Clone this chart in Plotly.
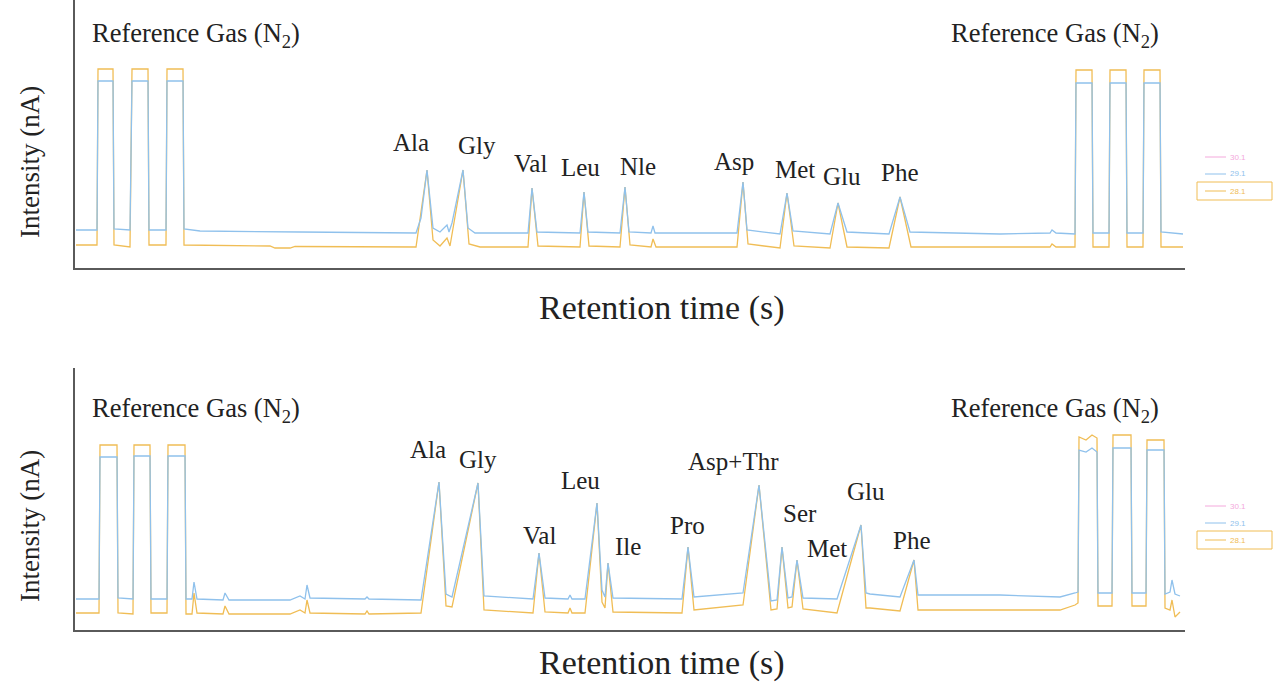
import plotly.graph_objects as go

# ---------------- data (retention time in s, intensity in arbitrary nA units) -------------
# Top chromatogram: standard mixture
top_t_291 = [1, 22, 23, 38, 39, 55, 57, 73, 74, 91, 92, 108, 109, 125, 225, 341, 346, 352, 358, 365,
             372, 374, 377, 388, 393, 400, 453, 457, 462, 505, 509, 513, 545, 550, 554, 576, 578, 580,
             662, 668, 672, 705, 712, 718, 755, 763, 772, 814, 825, 835, 925, 975, 977, 981, 1000, 1001,
             1017, 1018, 1034, 1035, 1051, 1052, 1068, 1069, 1085, 1086, 1108]
top_i_291 = [38, 38, 187, 187, 39, 38, 187, 187, 38, 38, 187, 187, 39, 37, 36, 35, 50, 98, 40, 36,
             43, 36, 45, 98, 40, 35, 35, 80, 36, 35, 76, 36, 35, 81, 36, 35, 42, 35,
             35, 86, 38, 34, 75, 37, 34, 65, 36, 34, 71, 36, 34, 35, 38, 35, 34, 185,
             185, 35, 35, 185, 185, 35, 35, 185, 185, 36, 34]

top_t_281 = [1, 22, 23, 38, 39, 55, 57, 73, 74, 91, 92, 108, 109, 195, 200, 215, 220, 341, 352, 358,
             365, 372, 375, 388, 394, 405, 453, 457, 463, 505, 509, 514, 545, 550, 555, 576, 578, 581,
             662, 668, 673, 705, 712, 719, 755, 763, 772, 814, 825, 836, 975, 977, 981, 1000, 1001,
             1017, 1018, 1034, 1035, 1051, 1052, 1068, 1069, 1085, 1086, 1108]
top_i_281 = [23, 23, 199, 199, 23, 21, 199, 199, 23, 23, 199, 199, 23, 22, 20, 20, 21.5, 21, 98, 28,
             22, 30, 22, 98, 24, 21, 21, 80, 22, 21, 76, 22, 21, 81, 23, 21, 29, 21,
             21, 86, 24, 20, 75, 22, 20, 65, 21, 20, 71, 21, 21, 24, 21, 21, 198,
             198, 21, 21, 198, 198, 21, 21, 198, 198, 21, 21]

# Bottom chromatogram: sample
bot_t_291 = [1, 24, 25, 42, 43, 58, 59, 75, 76, 92, 93, 110, 111, 117, 119, 122, 148, 150, 154, 215,
             225, 230, 232, 235, 290, 292, 294, 346, 364, 371, 377, 403, 409, 458, 464, 470, 493, 495,
             497, 510, 522, 527, 530, 533, 538, 607, 613, 619, 668, 684, 696, 702, 707, 713, 717, 722,
             728, 762, 786, 791, 795, 825, 839, 843, 925, 985, 1000, 1003, 1004, 1011, 1017, 1022,
             1023, 1037, 1038, 1056, 1057, 1071, 1072, 1089, 1090, 1095, 1097, 1100, 1105]
bot_i_291 = [31, 31, 173, 173, 32, 31, 174, 174, 31, 31, 174, 174, 31, 31, 48, 31, 30, 37, 30, 30,
             34, 31, 45, 32, 31, 33, 31, 30, 148, 36, 33, 147, 34, 31, 77, 32, 31, 35,
             31, 31, 127, 40, 33, 67, 32, 31, 83, 33, 37, 145, 29, 30, 83, 32, 33, 70,
             32, 31, 105, 37, 36, 33, 70, 35, 35, 33, 37, 38, 180, 178, 182, 178,
             37, 37, 182, 182, 37, 37, 180, 180, 36, 38, 50, 36, 34]

bot_t_281 = [1, 24, 25, 42, 43, 58, 59, 75, 76, 92, 93, 110, 111, 117, 119, 122, 148, 150, 154, 215,
             225, 230, 232, 235, 290, 292, 294, 346, 364, 371, 377, 403, 409, 458, 464, 470, 493, 495,
             497, 510, 522, 527, 530, 533, 538, 607, 613, 619, 668, 684, 696, 702, 707, 713, 717, 722,
             728, 762, 786, 791, 795, 825, 839, 843, 925, 985, 1000, 1003, 1004, 1011, 1017, 1022,
             1023, 1037, 1038, 1056, 1057, 1071, 1072, 1089, 1090, 1095, 1097, 1100, 1105]
bot_i_281 = [17, 17, 185, 185, 17, 16, 185, 185, 17, 17, 185, 185, 16, 16, 37, 17, 16, 24, 16, 16,
             20, 17, 30, 17, 16, 19, 16, 17, 148, 24, 23, 147, 20, 17, 77, 18, 17, 22,
             17, 17, 127, 28, 22, 67, 18, 17, 83, 20, 25, 145, 20, 21, 83, 22, 23, 70,
             21, 17, 105, 22, 22, 19, 70, 20, 20, 20, 25, 27, 193, 190, 195, 192,
             24, 24, 195, 195, 24, 24, 190, 190, 22, 20, 30, 13, 18]

# Peak labels (name, retention time, label height)
top_labels = ["Ala", "Gly", "Val", "Leu", "Nle", "Asp", "Met", "Glu", "Phe"]
top_label_t = [336, 402, 455, 505, 563, 659, 720, 767, 825]
top_label_i = [126, 123, 105, 101, 102, 107, 99, 92, 96]

bot_labels = ["Ala", "Gly", "Val", "Leu", "Ile", "Pro", "Asp+Thr", "Ser", "Met", "Glu", "Phe"]
bot_label_t = [353, 403, 464, 505, 553, 612, 658, 725, 752, 791, 837]
bot_label_i = [180, 170, 95, 149, 84, 105, 168, 117, 82, 138, 90]

ref_label = "Reference Gas (N<sub>2</sub>)"
ref_t = [121, 980]

series_names = ["30.1", "29.1", "28.1"]
series_colors = ["#f4a9dc", "#8fc1ec", "#f0bd55"]
BLUE = series_colors[1]
ORANGE = series_colors[2]

# ---------------- figure ----------------
fig = go.Figure()
SERIF = "Liberation Serif, Times New Roman, serif"
TXT = "#222222"

fig.add_trace(go.Scatter(x=top_t_281, y=top_i_281, mode="lines", line=dict(color=ORANGE, width=1.3),
                         xaxis="x", yaxis="y", showlegend=False))
fig.add_trace(go.Scatter(x=top_t_291, y=top_i_291, mode="lines", line=dict(color=BLUE, width=1.3),
                         xaxis="x", yaxis="y", showlegend=False))
fig.add_trace(go.Scatter(x=bot_t_281, y=bot_i_281, mode="lines", line=dict(color=ORANGE, width=1.3),
                         xaxis="x2", yaxis="y2", showlegend=False))
fig.add_trace(go.Scatter(x=bot_t_291, y=bot_i_291, mode="lines", line=dict(color=BLUE, width=1.3),
                         xaxis="x2", yaxis="y2", showlegend=False))

W, H = 1287, 692
xdom = [75 / W, 1185 / W]
axis_common = dict(showgrid=False, zeroline=False, showticklabels=False, ticks="",
                   showline=True, linecolor="#5a5a5a", linewidth=2, fixedrange=True)

annotations = []


def ann(**kw):
    base = dict(showarrow=False, xanchor="center", yanchor="middle")
    base.update(kw)
    annotations.append(base)


# peak labels
for name, t, i in zip(top_labels, top_label_t, top_label_i):
    ann(x=t, y=i, xref="x", yref="y", text=name, font=dict(family=SERIF, size=25, color=TXT))
for name, t, i in zip(bot_labels, bot_label_t, bot_label_i):
    ann(x=t, y=i, xref="x2", yref="y2", text=name, font=dict(family=SERIF, size=25, color=TXT))
for t in ref_t:
    ann(x=t, y=233, xref="x", yref="y", text=ref_label, font=dict(family=SERIF, size=26.5, color=TXT))
    ann(x=t, y=220, xref="x2", yref="y2", text=ref_label, font=dict(family=SERIF, size=26.5, color=TXT))

# axis titles
for ycen in [308, 663]:
    ann(x=662 / W, y=1 - ycen / H, xref="paper", yref="paper", text="Retention time (s)",
        font=dict(family=SERIF, size=34, color=TXT))
for ycen in [162, 526]:
    ann(x=30 / W, y=1 - ycen / H, xref="paper", yref="paper", text="Intensity (nA)", textangle=-90,
        font=dict(family=SERIF, size=27, color=TXT))

shapes = []
# small legends on the right
for ys in [[157, 174, 191], [506, 523, 540]]:
    for name, col, yy in zip(series_names, series_colors, ys):
        shapes.append(dict(type="line", xref="paper", yref="paper",
                           x0=1205 / W, x1=1226 / W, y0=1 - yy / H, y1=1 - yy / H,
                           line=dict(color=col, width=1)))
        ann(x=1228 / W, y=1 - yy / H, xref="paper", yref="paper", xanchor="left", text=name,
            font=dict(family="Liberation Sans, Arial", size=8, color=col))
    yb = ys[2]
    shapes.append(dict(type="rect", xref="paper", yref="paper",
                       x0=1197 / W, x1=1272 / W, y0=1 - (yb + 9) / H, y1=1 - (yb - 9) / H,
                       line=dict(color=ORANGE, width=1)))

fig.update_layout(
    width=W, height=H,
    margin=dict(l=0, r=0, t=0, b=0),
    paper_bgcolor="white", plot_bgcolor="white",
    showlegend=False,
    xaxis=dict(domain=xdom, range=[0, 1110], anchor="y", **axis_common),
    yaxis=dict(domain=[1 - 268 / H, 1], range=[0, 268], anchor="x", **axis_common),
    xaxis2=dict(domain=xdom, range=[0, 1110], anchor="y2", **axis_common),
    yaxis2=dict(domain=[1 - 630 / H, 1 - 368 / H], range=[0, 262], anchor="x2", **axis_common),
    annotations=annotations,
    shapes=shapes,
)

fig.write_html("out.html")
